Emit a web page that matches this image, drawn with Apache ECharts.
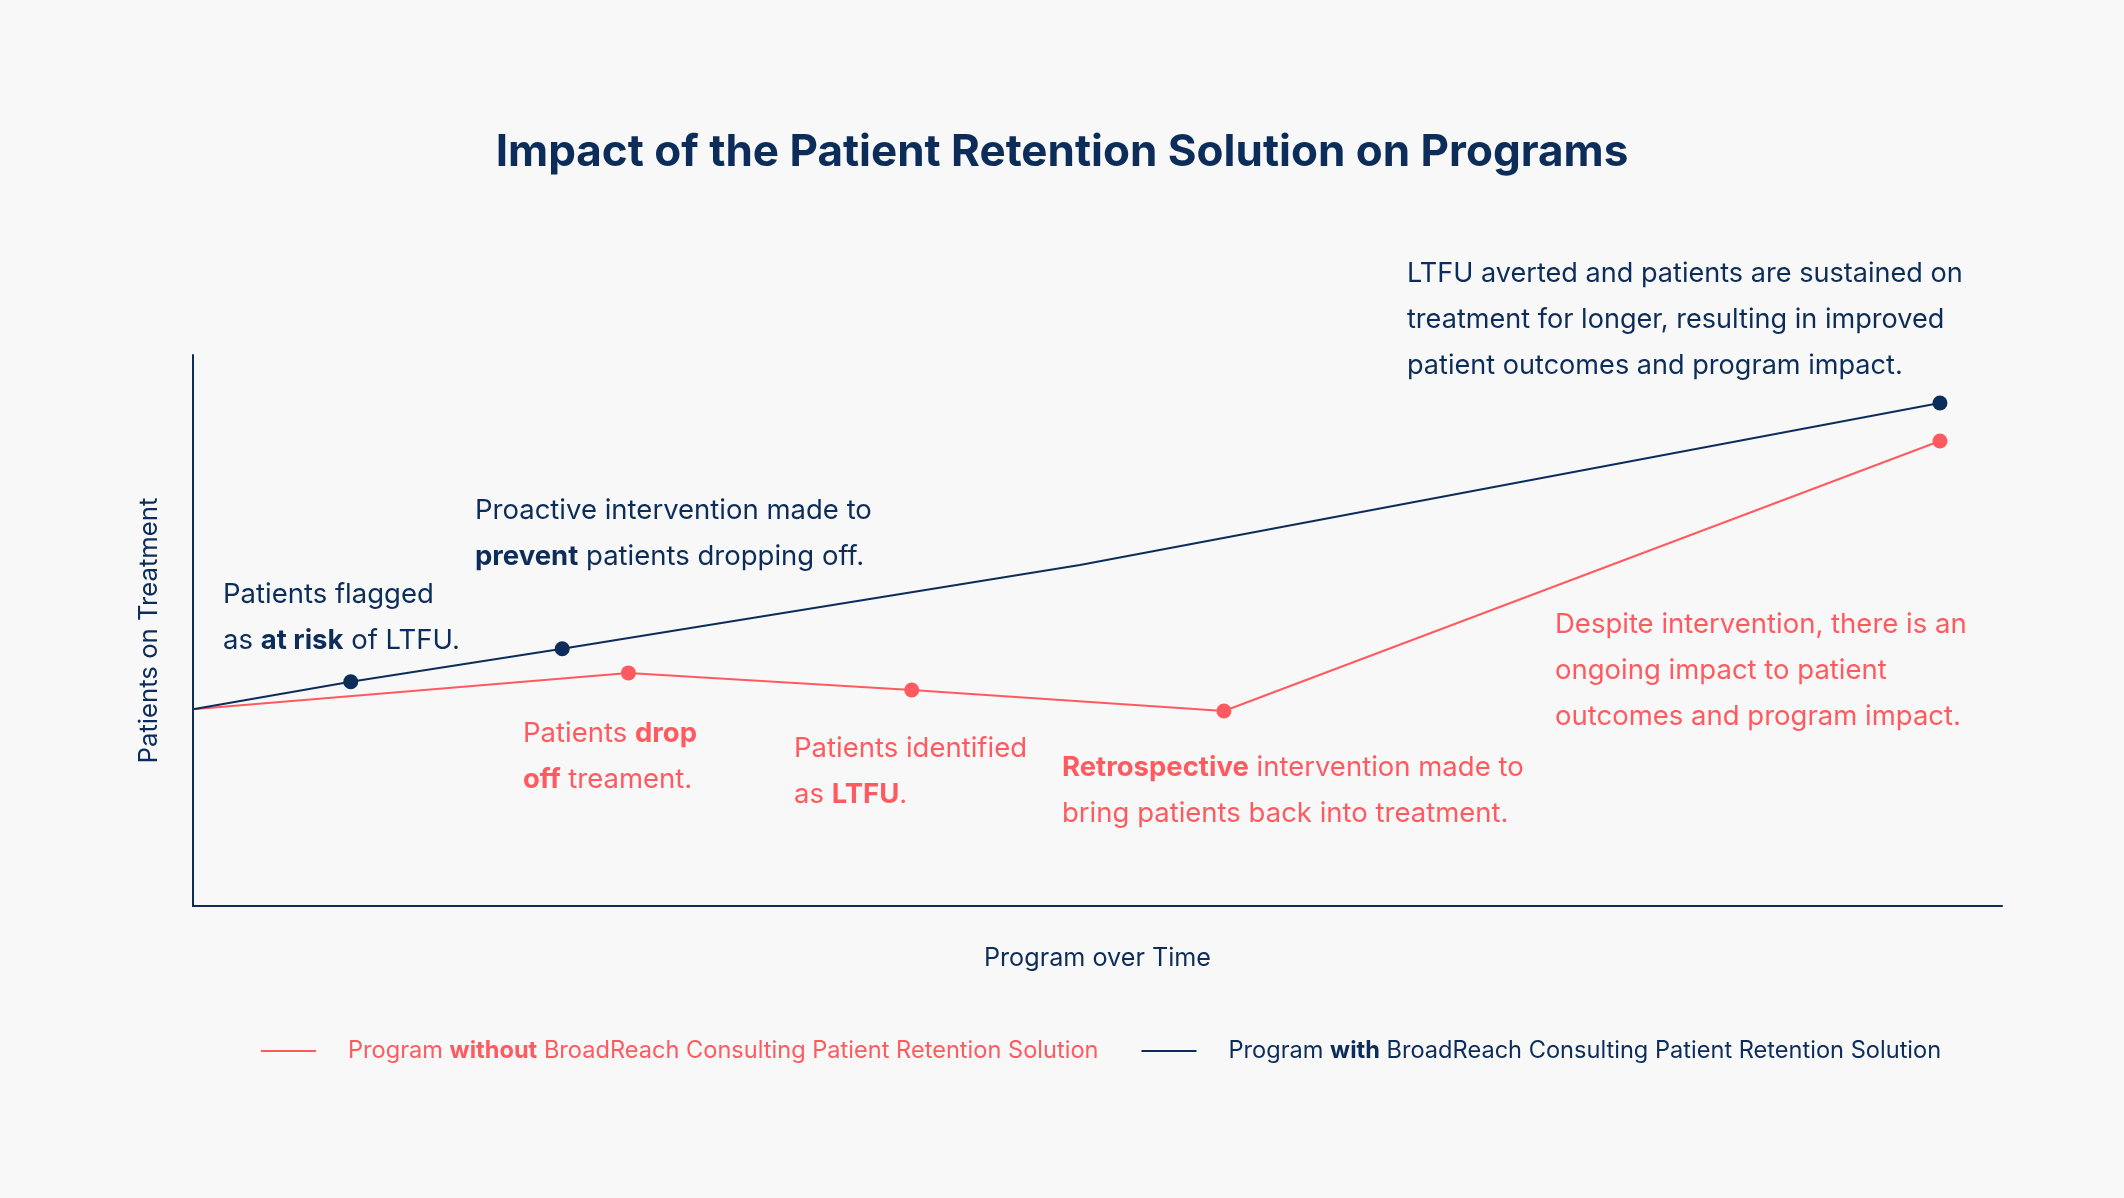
<!DOCTYPE html>
<html>
<head>
<meta charset="utf-8">
<script src="https://cdn.jsdelivr.net/npm/echarts@6/dist/echarts.min.js"></script>
<style>
html,body{margin:0;padding:0;background:#f8f8f8;}
#c{width:2124px;height:1198px;}
</style>
</head>
<body>
<div id="c"></div>
<script>
const NAVY = '#0c2d5a';
const RED = '#ff5a5f';
const FONT = 'Inter, "Noto Sans", sans-serif';

// Series data (time units 0-100, patients index 0-100)
const withName = 'Program with BroadReach Consulting Patient Retention Solution';
const withoutName = 'Program without BroadReach Consulting Patient Retention Solution';
const withX = [0, 8.72, 20.41, 49.03, 96.57];
const withY = [35.7, 40.7, 46.7, 61.9, 91.3];
const withMarker = [false, true, true, false, true];
const withoutX = [0, 24.07, 39.73, 56.99, 96.57];
const withoutY = [35.7, 42.3, 39.2, 35.4, 84.4];
const withoutMarker = [false, true, true, true, true];

const chartTitle = 'Impact of the Patient Retention Solution on Programs';
const xAxisName = 'Program over Time';
const yAxisName = 'Patients on Treatment';

function build(xs, ys, marks) {
  return xs.map((x, i) => ({
    value: [x, ys[i]],
    symbolSize: marks[i] ? 15 : 0
  }));
}

function note(text, left, top, color, size) {
  const NS = size || 27.5;
  return {
    text: text,
    left: left, top: top, padding: 0,
    textStyle: {
      fontFamily: FONT, fontSize: NS, fontWeight: 'normal', color: color, lineHeight: 46,
      rich: {
        b: {fontFamily: FONT, fontSize: NS, fontWeight: 'bold', color: color, lineHeight: 46},
        n: {fontFamily: FONT, fontSize: NS, fontWeight: 'normal', color: color, lineHeight: 46}
      }
    }
  };
}

const LS = 23.6;
const chart = echarts.init(document.getElementById('c'));
chart.setOption({
  backgroundColor: '#f8f8f8',
  animation: false,
  title: [
    {text: chartTitle, left: 'center', top: 131, padding: 0,
     textStyle: {fontFamily: FONT, fontSize: 44, fontWeight: 'bold', color: NAVY}},
    note('{n|Patients flagged}\n{n|as }{b|at risk}{n| of LTFU.}', 223, 572, NAVY),
    note('{n|Proactive intervention made to}\n{b|prevent}{n| patients dropping off.}', 475, 488, NAVY),
    note('{n|LTFU averted and patients are sustained on}\n{n|treatment for longer, resulting in improved}\n{n|patient outcomes and program impact.}', 1407, 251, NAVY, 27.1),
    note('{n|Patients }{b|drop}\n{b|off}{n| treament.}', 523, 711, RED),
    note('{n|Patients identified}\n{n|as }{b|LTFU}{n|.}', 794, 726, RED),
    note('{b|Retrospective}{n| intervention made to}\n{n|bring patients back into treatment.}', 1062, 745, RED),
    note('{n|Despite intervention, there is an}\n{n|ongoing impact to patient}\n{n|outcomes and program impact.}', 1555, 602, RED)
  ],
  grid: {left: 193, right: 122, top: 355, bottom: 292, containLabel: false},
  xAxis: {
    type: 'value', min: 0, max: 100,
    name: xAxisName, nameLocation: 'middle', nameGap: 40,
    nameTextStyle: {fontFamily: FONT, fontSize: 25.2, color: NAVY},
    axisLine: {show: true, onZero: false, lineStyle: {color: NAVY, width: 2}},
    axisTick: {show: false}, axisLabel: {show: false}, splitLine: {show: false}
  },
  yAxis: {
    type: 'value', min: 0, max: 100,
    name: yAxisName, nameLocation: 'middle', nameGap: 31,
    nameTextStyle: {fontFamily: FONT, fontSize: 25.7, color: NAVY},
    axisLine: {show: true, lineStyle: {color: NAVY, width: 2}},
    axisTick: {show: false}, axisLabel: {show: false}, splitLine: {show: false}
  },
  legend: {
    left: 256, top: 1034,
    itemGap: 43, itemWidth: 55, itemHeight: 2, icon: 'rect',
    formatter: function (name) {
      return name.replace(/^Program (without|with) /, 'Program {b|$1} ');
    },
    textStyle: {fontFamily: FONT, fontSize: LS, padding: [0, 0, 0, 27],
      rich: {b: {fontFamily: FONT, fontSize: LS, fontWeight: 'bold'}}},
    data: [
      {name: withoutName, textStyle: {color: RED, rich: {b: {color: RED, fontWeight: 'bold', fontSize: LS, fontFamily: FONT}}}},
      {name: withName, textStyle: {color: NAVY, rich: {b: {color: NAVY, fontWeight: 'bold', fontSize: LS, fontFamily: FONT}}}}
    ]
  },
  series: [
    {name: withoutName, type: 'line', data: build(withoutX, withoutY, withoutMarker),
     symbol: 'circle', color: RED, lineStyle: {color: RED, width: 2}, itemStyle: {color: RED}, z: 2},
    {name: withName, type: 'line', data: build(withX, withY, withMarker),
     symbol: 'circle', color: NAVY, lineStyle: {color: NAVY, width: 2}, itemStyle: {color: NAVY}, z: 3}
  ]
});
</script>
</body>
</html>
